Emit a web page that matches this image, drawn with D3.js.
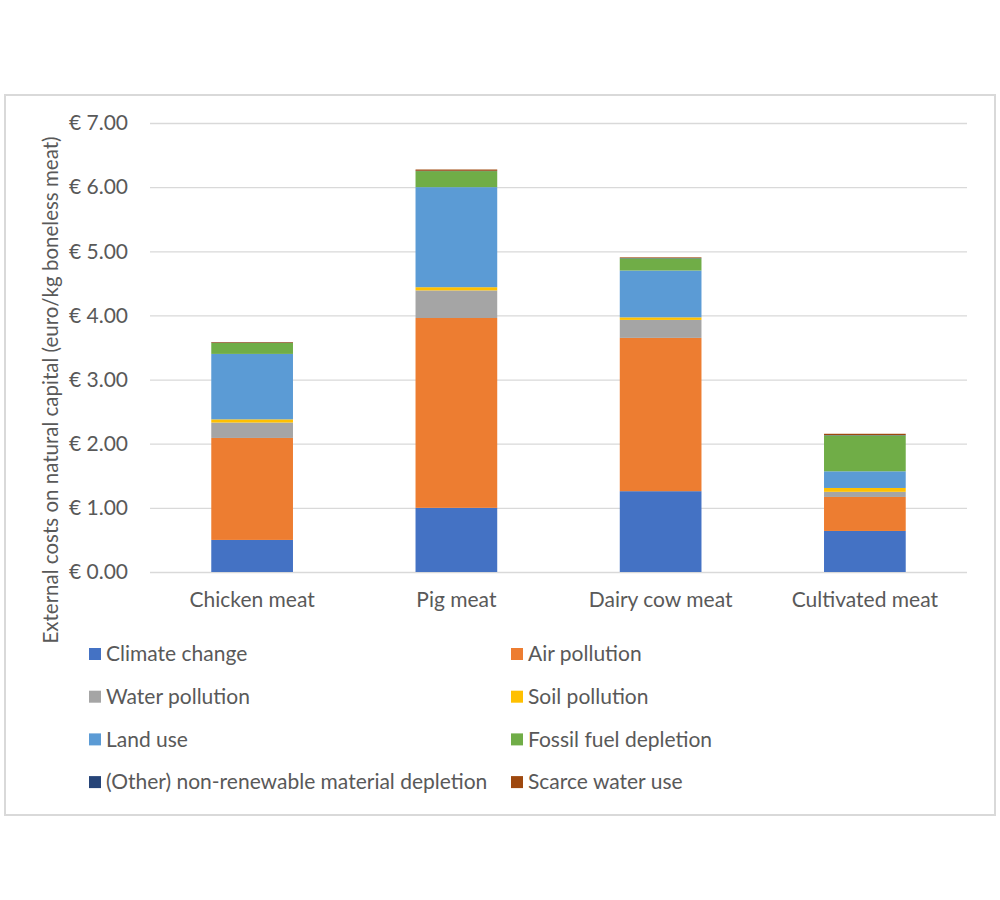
<!DOCTYPE html>
<html><head><meta charset="utf-8">
<script src="https://cdn.jsdelivr.net/npm/d3@7"></script>
<style>body{margin:0;background:#fff}svg{display:block}text{font-family:Lato,"Open Sans",sans-serif;fill:#595959}</style>
</head><body><svg id="c" width="1000" height="900"></svg>
<script>
const categories = ["Chicken meat","Pig meat","Dairy cow meat","Cultivated meat"];
const seriesNames = ["Climate change","Air pollution","Water pollution","Soil pollution","Land use","Fossil fuel depletion","(Other) non-renewable material depletion","Scarce water use"];
const climateChange = [0.50,1.00,1.26,0.64];
const airPollution = [1.59,2.96,2.39,0.53];
const waterPollution = [0.24,0.43,0.28,0.08];
const soilPollution = [0.05,0.05,0.04,0.06];
const landUse = [1.02,1.56,0.73,0.26];
const fossilFuel = [0.17,0.25,0.19,0.56];
const otherMaterial = [0.005,0.005,0.005,0.005];
const scarceWater = [0.01,0.02,0.01,0.02];
const yTicks = [0,1,2,3,4,5,6,7];
const colors = ["#4472C4","#ED7D31","#A5A5A5","#FFC000","#5B9BD5","#70AD47","#264478","#9E480E"];

const seriesVals = [climateChange,airPollution,waterPollution,soilPollution,landUse,fossilFuel,otherMaterial,scarceWater];
const rows = categories.map((c,i)=>{const o={cat:c};seriesNames.forEach((s,j)=>o[s]=seriesVals[j][i]);return o;});
const stacked = d3.stack().keys(seriesNames)(rows);

const svg = d3.select("#c");
svg.append("rect").attr("x",5).attr("y",95).attr("width",990).attr("height",720)
  .attr("fill","#fff").attr("stroke","#d9d9d9").attr("stroke-width",2);

const x = d3.scaleBand().domain(categories).range([150,967]).paddingInner(0.6).paddingOuter(0.3);
const y = d3.scaleLinear().domain([0,7]).range([572,123]);

const gy = svg.append("g").attr("transform","translate(150,0)")
  .call(d3.axisLeft(y).tickValues(yTicks).tickSize(-817).tickPadding(22).tickFormat(d=>"€ "+d.toFixed(2)));
gy.select(".domain").remove();
gy.selectAll(".tick line").attr("stroke","#d9d9d9").attr("stroke-width",1.3);
gy.selectAll(".tick text").style("font-size","21px").style("font-family","Lato, sans-serif").style("fill","#595959");

svg.append("g").selectAll("g").data(stacked).join("g").attr("fill",(d,i)=>colors[i])
  .selectAll("rect").data(d=>d).join("rect")
  .attr("x",d=>x(d.data.cat)).attr("width",x.bandwidth())
  .attr("y",d=>y(d[1])).attr("height",d=>Math.max(0,y(d[0])-y(d[1])));

const gx = svg.append("g").attr("transform","translate(0,572)")
  .call(d3.axisBottom(x).tickSize(0).tickPadding(20));
gx.select(".domain").remove();
gx.selectAll(".tick text").style("font-size","21px").style("font-family","Lato, sans-serif").style("fill","#595959");

svg.append("text").attr("transform","translate(58,390) rotate(-90)").attr("text-anchor","middle")
  .style("font-size","20.5px").text("External costs on natural capital (euro/kg boneless meat)");

const leg = svg.append("g").selectAll("g").data(seriesNames).join("g")
  .attr("transform",(d,i)=>`translate(${i%2===0?89:511},${654+Math.floor(i/2)*42.7})`);
leg.append("rect").attr("x",0).attr("y",-6).attr("width",12).attr("height",12).attr("fill",(d,i)=>colors[i]);
leg.append("text").attr("x",17).attr("y",0).attr("dy","0.35em").style("font-size","21px").text(d=>d);
</script></body></html>
